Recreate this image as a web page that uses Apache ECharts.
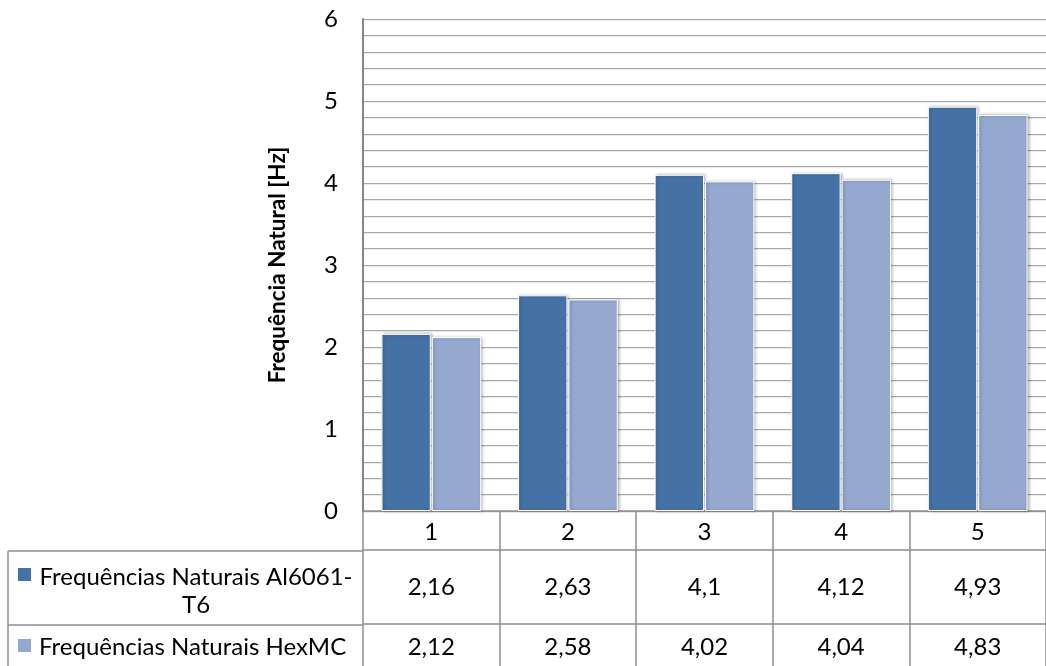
<!DOCTYPE html>
<html>
<head>
<meta charset="utf-8">
<title>Frequências Naturais</title>
<script src="https://cdn.jsdelivr.net/npm/echarts@6/dist/echarts.min.js"></script>
<style>
  html, body { margin: 0; padding: 0; background: #fff; }
  #chart { width: 1046px; height: 666px; }
</style>
</head>
<body>
<div id="chart"></div>
<script>
// Modes of vibration and their natural frequencies [Hz]
const categories = ['1', '2', '3', '4', '5'];
const seriesNames = ['Frequências Naturais Al6061-T6', 'Frequências Naturais HexMC'];
const al6061 = [2.16, 2.63, 4.10, 4.12, 4.93];
const hexmc = [2.12, 2.58, 4.02, 4.04, 4.83];
const yTicks = [0, 1, 2, 3, 4, 5, 6];

const colors = ['#4472a6', '#95a8cf'];
const FONT = 'Lato, Carlito, "Open Sans", sans-serif';
const FS = 24;
const BORDER = '#8f8f8f';

// decimal comma, as in the data table
const fmt = v => String(v).replace('.', ',');

const chart = echarts.init(document.getElementById('chart'), null, { renderer: 'canvas' });

const barStyle = c => ({
  color: c,
  borderColor: '#ffffff',
  borderWidth: 1,
  shadowBlur: 3,
  shadowOffsetX: 1.5,
  shadowOffsetY: 0,
  shadowColor: 'rgba(0,0,0,0.28)'
});

const gridLine = {
  show: true,
  lineStyle: { color: '#a8a8a8', width: 1.2, shadowColor: 'rgba(0,0,0,0.10)', shadowOffsetY: 1, shadowBlur: 1 }
};

// one category axis per table row: header, series 1 values, series 2 values
const tableAxis = (data, offset, tickLen, margin) => ({
  type: 'category',
  position: 'bottom',
  offset: offset,
  data: data,
  axisLine: { show: true, lineStyle: { color: BORDER, width: 1.5 } },
  axisTick: { show: true, length: tickLen, alignWithLabel: false, lineStyle: { color: BORDER, width: 1.5 } },
  axisLabel: { color: '#000', fontFamily: FONT, fontSize: FS, margin: margin, verticalAlign: 'middle' },
  splitLine: { show: false }
});

chart.setOption({
  animation: false,
  backgroundColor: '#ffffff',
  textStyle: { fontFamily: FONT },
  grid: { left: 363, right: 0, top: 19, bottom: 155, containLabel: false },
  xAxis: [
    tableAxis(categories, 0, 39, 21),
    tableAxis(al6061.map(fmt), 39, 74, 37),
    tableAxis(hexmc.map(fmt), 113, 60, 23)
  ],
  yAxis: {
    type: 'value',
    min: yTicks[0],
    max: yTicks[yTicks.length - 1],
    interval: 1,
    name: 'Frequência Natural [Hz]',
    nameLocation: 'middle',
    nameRotate: 90,
    nameGap: 74,
    nameTextStyle: { color: '#000', fontFamily: FONT, fontSize: 22.5, fontWeight: 'bold' },
    axisLine: { show: true, lineStyle: { color: '#868686', width: 2 } },
    axisTick: { show: false },
    axisLabel: { color: '#000', fontFamily: FONT, fontSize: FS, margin: 25 },
    splitLine: gridLine,
    minorTick: { show: false, splitNumber: 5 },
    minorSplitLine: gridLine
  },
  series: [
    {
      name: seriesNames[0],
      type: 'bar',
      data: al6061,
      barCategoryGap: '27%',
      barGap: '2%',
      itemStyle: barStyle(colors[0])
    },
    {
      name: seriesNames[1],
      type: 'bar',
      data: hexmc,
      barCategoryGap: '27%',
      barGap: '2%',
      itemStyle: barStyle(colors[1])
    }
  ],
  // legend column of the data table
  graphic: [
    { type: 'line', shape: { x1: 8, y1: 551, x2: 363, y2: 551 }, style: { stroke: BORDER, lineWidth: 1.5 } },
    { type: 'line', shape: { x1: 8, y1: 625, x2: 363, y2: 625 }, style: { stroke: BORDER, lineWidth: 1.5 } },
    { type: 'line', shape: { x1: 8, y1: 551, x2: 8, y2: 670 }, style: { stroke: BORDER, lineWidth: 1.5 } },
    { type: 'rect', shape: { x: 18, y: 568, width: 13, height: 13 }, style: { fill: colors[0] } },
    { type: 'rect', shape: { x: 18, y: 639, width: 13, height: 13 }, style: { fill: colors[1] } },
    {
      type: 'text', x: 196, y: 591,
      style: {
        text: 'Frequências Naturais Al6061-\nT6',
        fill: '#000', font: FS + 'px ' + FONT, textAlign: 'center', textVerticalAlign: 'middle', lineHeight: 28
      }
    },
    {
      type: 'text', x: 39, y: 647,
      style: { text: seriesNames[1], fill: '#000', font: FS + 'px ' + FONT, textAlign: 'left', textVerticalAlign: 'middle' }
    }
  ]
});
</script>
</body>
</html>
